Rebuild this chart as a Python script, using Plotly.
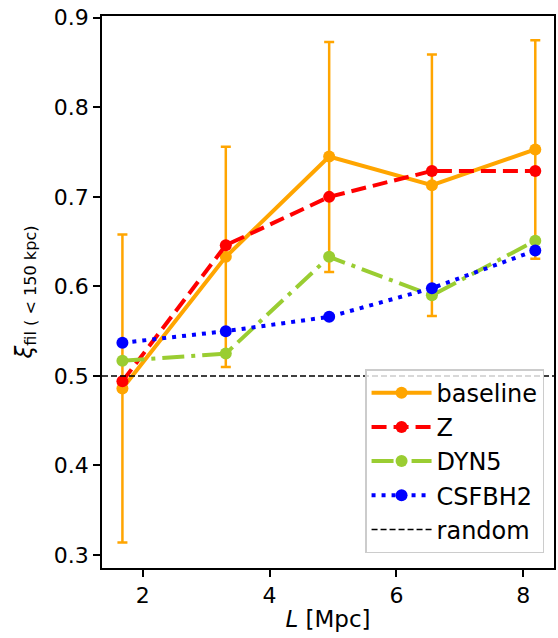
import plotly.graph_objects as go

L = [1.68, 3.31, 4.94, 6.56, 8.19]
baseline = [0.486, 0.633, 0.745, 0.713, 0.753]
baseline_hi = [0.658, 0.756, 0.873, 0.859, 0.875]
baseline_lo = [0.314, 0.510, 0.616, 0.567, 0.631]
Z = [0.494, 0.646, 0.700, 0.729, 0.729]
DYN5 = [0.517, 0.525, 0.633, 0.590, 0.651]
CSFBH2 = [0.537, 0.550, 0.566, 0.598, 0.640]
random_level = 0.5
xrange_ = [1.358, 8.485]
yrange_ = [0.2855, 0.902]

err_plus = [h - b for h, b in zip(baseline_hi, baseline)]
err_minus = [b - l for b, l in zip(baseline, baseline_lo)]

fig = go.Figure()
fig.add_trace(go.Scatter(
    x=L, y=baseline, name="baseline", mode="lines+markers",
    line=dict(color="#FFA500", width=4),
    marker=dict(size=12, color="#FFA500"),
    error_y=dict(type="data", symmetric=False, array=err_plus, arrayminus=err_minus,
                 color="#FFA500", thickness=2.5, width=5),
))
fig.add_trace(go.Scatter(
    x=L, y=Z, name="Z", mode="lines+markers",
    line=dict(color="#FF0000", width=4, dash="15px,7px"),
    marker=dict(size=12, color="#FF0000"),
))
fig.add_trace(go.Scatter(
    x=L, y=DYN5, name="DYN5", mode="lines+markers",
    line=dict(color="#9ACD32", width=4, dash="22px,7px,4px,7px"),
    marker=dict(size=12, color="#9ACD32"),
))
fig.add_trace(go.Scatter(
    x=L, y=CSFBH2, name="CSFBH2", mode="lines+markers",
    line=dict(color="#0000FF", width=4, dash="4px,6px"),
    marker=dict(size=12, color="#0000FF"),
))
fig.add_trace(go.Scatter(
    x=xrange_, y=[random_level, random_level], name="random", mode="lines",
    line=dict(color="black", width=1.5, dash="6px,3px"),
))

axis_common = dict(
    showline=True, linecolor="black", linewidth=1.8, mirror=True,
    ticks="outside", ticklen=7, tickwidth=1.8, tickcolor="black",
    showgrid=False, zeroline=False,
    tickfont=dict(family="DejaVu Sans", size=22, color="black"),
)

fig.update_layout(
    width=558, height=638,
    margin=dict(l=102, r=2, t=16, b=70),
    paper_bgcolor="white", plot_bgcolor="white",
    font=dict(family="DejaVu Sans", color="black"),
    xaxis=dict(range=xrange_, tickvals=[2, 4, 6, 8],
               title=dict(text="<i>L</i> [Mpc]", font=dict(size=23), standoff=4),
               **axis_common),
    yaxis=dict(range=yrange_, tickvals=[0.3, 0.4, 0.5, 0.6, 0.7, 0.8, 0.9],
               tickformat=".1f",
               title=dict(text="<i>ξ</i><sub>fil ( < 150 kpc)</sub>", font=dict(size=23), standoff=15),
               **axis_common),
    legend=dict(x=0.978, y=0.027, xanchor="right", yanchor="bottom",
                bgcolor="rgba(255,255,255,0.8)", bordercolor="#cccccc", borderwidth=1.5,
                font=dict(size=24, family="DejaVu Sans"),
                tracegroupgap=2, itemwidth=60),
    showlegend=True,
)

fig.write_html("out.html")
